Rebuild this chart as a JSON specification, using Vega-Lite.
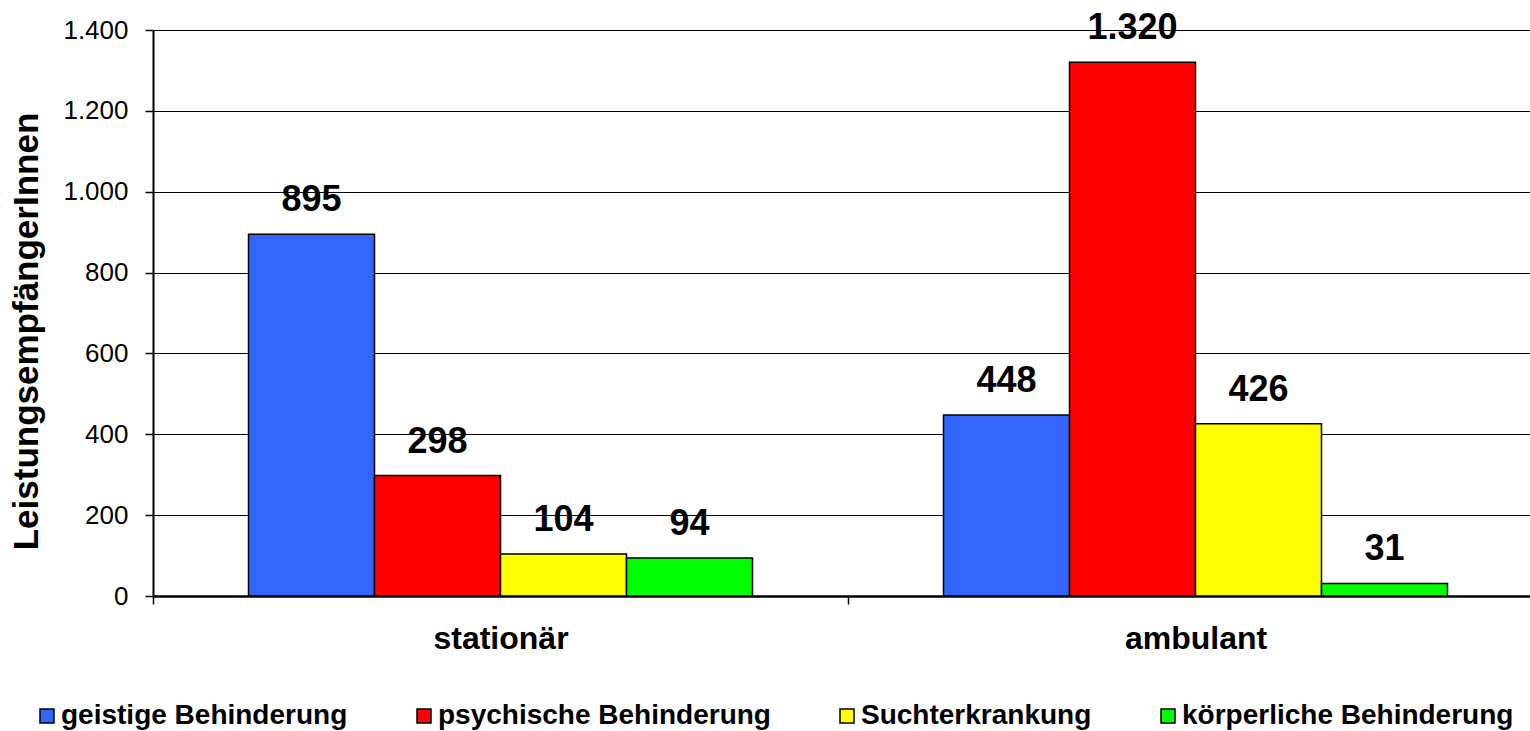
{
  "$schema": "https://vega.github.io/schema/vega-lite/v6.json",
  "width": 1377,
  "height": 566,
  "autosize": {"type": "none"},
  "padding": {"left": 153, "top": 30, "right": 0, "bottom": 135},
  "background": "white",
  "data": {
    "values": [
      {"Art": "stationär", "Gruppe": "geistige Behinderung", "Wert": 895},
      {"Art": "stationär", "Gruppe": "psychische Behinderung", "Wert": 298},
      {"Art": "stationär", "Gruppe": "Suchterkrankung", "Wert": 104},
      {"Art": "stationär", "Gruppe": "körperliche Behinderung", "Wert": 94},
      {"Art": "ambulant", "Gruppe": "geistige Behinderung", "Wert": 448},
      {"Art": "ambulant", "Gruppe": "psychische Behinderung", "Wert": 1320},
      {"Art": "ambulant", "Gruppe": "Suchterkrankung", "Wert": 426},
      {"Art": "ambulant", "Gruppe": "körperliche Behinderung", "Wert": 31}
    ]
  },
  "encoding": {
    "x": {
      "field": "Art", "type": "nominal", "sort": ["stationär", "ambulant"],
      "scale": {"paddingInner": 0, "paddingOuter": 0, "range": [0, 1390]},
      "axis": {
        "title": null, "labelAngle": 0, "tickBand": "extent",
        "labelFont": "Liberation Sans", "labelFontWeight": "bold", "labelFontSize": 32,
        "labelColor": "black", "labelPadding": 19,
        "domainColor": "black", "domainWidth": 2.5,
        "tickColor": "black", "tickSize": 8, "tickWidth": 1.5, "grid": false
      }
    },
    "xOffset": {
      "field": "Gruppe", "type": "nominal",
      "sort": ["geistige Behinderung", "psychische Behinderung", "Suchterkrankung", "körperliche Behinderung"],
      "scale": {"paddingInner": 0, "paddingOuter": 0.758}
    },
    "y": {
      "field": "Wert", "type": "quantitative",
      "scale": {"domain": [0, 1400], "nice": false},
      "axis": {
        "title": "LeistungsempfängerInnen",
        "values": [0, 200, 400, 600, 800, 1000, 1200, 1400],
        "format": ",d",
        "labelFont": "Liberation Sans", "labelFontSize": 26, "labelColor": "black", "labelPadding": 17,
        "titleFont": "Liberation Sans", "titleFontWeight": "bold", "titleFontSize": 35, "titleColor": "black",
        "titleAngle": 270, "titleAlign": "center", "titleBaseline": "middle",
        "titleX": -127, "titleY": 301,
        "domainColor": "black", "domainWidth": 2,
        "tickColor": "black", "tickSize": 8, "tickWidth": 1.5,
        "grid": true, "gridColor": "black", "gridWidth": 1.2, "gridOpacity": 1
      }
    }
  },
  "layer": [
    {
      "mark": {"type": "bar", "stroke": "black", "strokeWidth": 1.5},
      "encoding": {
        "color": {
          "field": "Gruppe", "type": "nominal",
          "scale": {
            "domain": ["geistige Behinderung", "psychische Behinderung", "Suchterkrankung", "körperliche Behinderung"],
            "range": ["#3366FF", "#FF0000", "#FFFF00", "#00FF00"]
          },
          "legend": {
            "title": null, "orient": "none", "direction": "horizontal",
            "legendX": -120, "legendY": 672,
            "symbolType": "square", "symbolSize": 196, "symbolStrokeColor": "black", "symbolStrokeWidth": 1.5,
            "symbolOpacity": 1,
            "labelFont": "Liberation Sans", "labelFontWeight": "bold", "labelFontSize": 28, "labelColor": "black",
            "labelOffset": 0, "columnPadding": 62, "labelLimit": 600
          }
        }
      }
    },
    {
      "mark": {"type": "text", "font": "Liberation Sans", "fontWeight": "bold", "fontSize": 36, "color": "black", "baseline": "alphabetic", "dy": -23},
      "encoding": {
        "text": {"field": "Wert", "type": "quantitative", "format": ",d"}
      }
    }
  ],
  "config": {
    "locale": {"number": {"decimal": ",", "thousands": ".", "grouping": [3], "currency": ["", " €"]}},
    "view": {"stroke": null}
  }
}
